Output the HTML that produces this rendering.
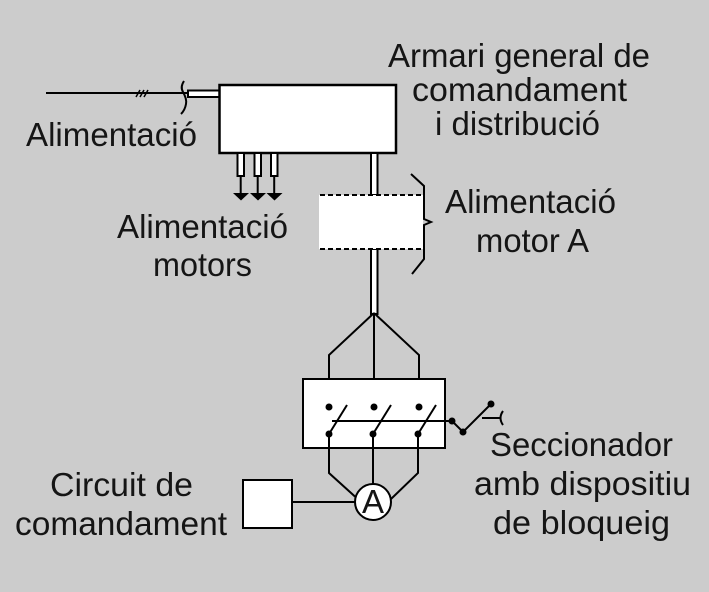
<!DOCTYPE html>
<html><head><meta charset="utf-8"><style>
html,body{margin:0;padding:0;background:#cccccc;}
svg{display:block;}
text{font-family:"Liberation Sans",sans-serif;font-size:33px;fill:#151515;}
</style></head><body>
<svg width="709" height="592" viewBox="0 0 709 592" xmlns="http://www.w3.org/2000/svg">
<rect x="0" y="0" width="709" height="592" fill="#cccccc"/>
<g stroke="#000" stroke-width="2" fill="none">
  <line x1="46" y1="93" x2="188" y2="93"/>
  <line x1="136" y1="97" x2="140" y2="90" stroke-width="1.5"/>
  <line x1="140" y1="97" x2="144" y2="90" stroke-width="1.5"/>
  <line x1="144" y1="97" x2="148" y2="90" stroke-width="1.5"/>
  <path d="M184,81 Q180,87 183,92 Q187,99 186,104 Q185,110 181,114"/>
  <rect x="188" y="90.5" width="32" height="6.5" fill="#fff"/>
  <rect x="219.5" y="85" width="176.5" height="68" fill="#fff" stroke-width="2.5"/>
  <rect x="237.5" y="153" width="6.5" height="23" fill="#fff"/>
  <rect x="254.5" y="153" width="6.5" height="23" fill="#fff"/>
  <rect x="271" y="153" width="6.5" height="23" fill="#fff"/>
  <line x1="240.7" y1="176" x2="240.7" y2="194"/>
  <line x1="257.7" y1="176" x2="257.7" y2="194"/>
  <line x1="274.2" y1="176" x2="274.2" y2="194"/>
</g>
<g fill="#000">
  <polygon points="233,193 249,193 241,200.5"/>
  <polygon points="250,193 266,193 258,200.5"/>
  <polygon points="266.5,193 282.5,193 274.5,200.5"/>
</g>
<g stroke="#000" stroke-width="2" fill="none">
  <rect x="371" y="153" width="6.5" height="42" fill="#fff"/>
  <rect x="371" y="249" width="6.5" height="65" fill="#fff"/>
  <rect x="319" y="195" width="104" height="54" fill="#fff" stroke="none"/>
  <line x1="320" y1="195" x2="423" y2="195" stroke-dasharray="5,3"/>
  <line x1="320" y1="249" x2="423" y2="249" stroke-dasharray="5,3"/>
  <path d="M411,174 L424,186 L424,219 L431,222 L424,225 L424,259 L412,274"/>
  <path d="M374,313 L329,355 L329,407"/>
  <path d="M374,313 L374,407"/>
  <path d="M374,313 L419,355 L419,407"/>
  <rect x="303" y="379" width="142" height="69" fill="#fff"/>
  <line x1="329" y1="434" x2="347" y2="405"/>
  <line x1="373" y1="434" x2="391" y2="405"/>
  <line x1="418" y1="434" x2="436" y2="405"/>
  <line x1="332" y1="421" x2="452" y2="421"/>
  <path d="M452,421 L463,432 L491,404"/>
  <line x1="482" y1="418" x2="500" y2="418"/>
  <path d="M503,411 Q498,418 503,425"/>
  <path d="M329,434 L329,473 L355.5,497"/>
  <line x1="373" y1="434" x2="373" y2="484"/>
  <path d="M418,434 L418,473 L391,499"/>
  <circle cx="373" cy="502" r="18" fill="#fff"/>
  <rect x="243" y="480" width="49" height="48" fill="#fff"/>
  <line x1="292" y1="502" x2="355" y2="502"/>
</g>
<g fill="#000">
  <circle cx="329" cy="407" r="3.5"/>
  <circle cx="374" cy="407" r="3.5"/>
  <circle cx="419" cy="407" r="3.5"/>
  <circle cx="329" cy="434" r="3.5"/>
  <circle cx="373" cy="434" r="3.5"/>
  <circle cx="418" cy="434" r="3.5"/>
  <circle cx="452" cy="421" r="3.5"/>
  <circle cx="463" cy="432" r="3.5"/>
  <circle cx="491" cy="404" r="3.5"/>
</g>
<text x="362" y="513" font-size="31" textLength="22" lengthAdjust="spacingAndGlyphs">A</text>
<text x="388" y="67" textLength="262" lengthAdjust="spacingAndGlyphs">Armari general de</text>
<text x="412" y="101" textLength="215" lengthAdjust="spacingAndGlyphs">comandament</text>
<text x="435" y="135" textLength="165" lengthAdjust="spacingAndGlyphs">i distribució</text>
<text x="26" y="146" textLength="171" lengthAdjust="spacingAndGlyphs">Alimentació</text>
<text x="117" y="238" textLength="171" lengthAdjust="spacingAndGlyphs">Alimentació</text>
<text x="153" y="276" textLength="99" lengthAdjust="spacingAndGlyphs">motors</text>
<text x="445" y="213" textLength="171" lengthAdjust="spacingAndGlyphs">Alimentació</text>
<text x="476" y="252" textLength="113" lengthAdjust="spacingAndGlyphs">motor A</text>
<text x="490" y="456" textLength="183" lengthAdjust="spacingAndGlyphs">Seccionador</text>
<text x="474" y="495" textLength="217" lengthAdjust="spacingAndGlyphs">amb dispositiu</text>
<text x="493" y="534" textLength="177" lengthAdjust="spacingAndGlyphs">de bloqueig</text>
<text x="50" y="496" textLength="143" lengthAdjust="spacingAndGlyphs">Circuit de</text>
<text x="15" y="535" textLength="212" lengthAdjust="spacingAndGlyphs">comandament</text>
</svg>
</body></html>
